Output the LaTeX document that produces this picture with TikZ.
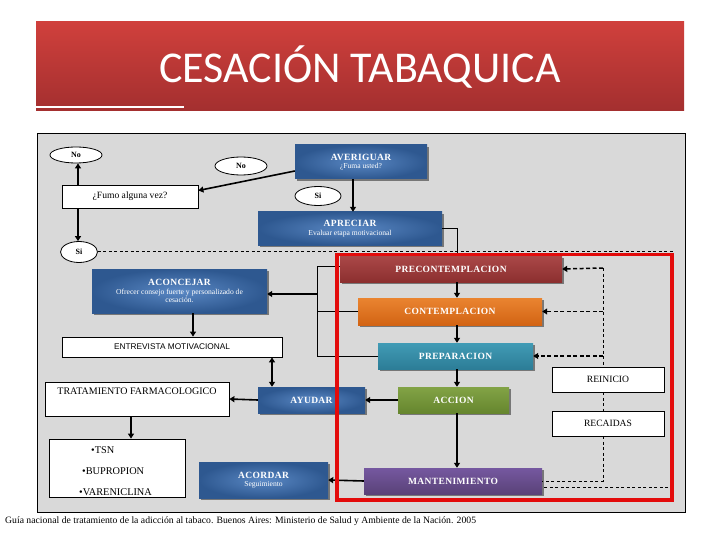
\documentclass[tikz,border=0pt]{standalone}
\usepackage{fontspec}
\setmainfont{Liberation Serif}
\newfontfamily\titlefont{Carlito}
\newfontfamily\sansf{Liberation Sans}
\newfontfamily\stagefont[LetterSpace=4]{Liberation Serif Bold}
\newcommand\subtxt{\normalfont\fontsize{7.6}{8.4}\selectfont}
\usetikzlibrary{shapes.geometric,arrows.meta,shadows}
\definecolor{bannertop}{HTML}{D0403C}
\definecolor{bannerbot}{HTML}{A32F2F}
\definecolor{panel}{HTML}{D9D9D9}
\definecolor{framered}{HTML}{E30B0B}
\definecolor{bluein}{HTML}{5A88C4}
\definecolor{blueout}{HTML}{2E5890}
\definecolor{pretop}{HTML}{AA4848}
\definecolor{prebot}{HTML}{8C2F2F}
\definecolor{conttop}{HTML}{EA8430}
\definecolor{contbot}{HTML}{D26414}
\definecolor{preptop}{HTML}{419BB5}
\definecolor{prepbot}{HTML}{2C7D97}
\definecolor{acctop}{HTML}{82A346}
\definecolor{accbot}{HTML}{66862E}
\definecolor{manttop}{HTML}{7558A0}
\definecolor{mantbot}{HTML}{5A4278}
\tikzset{
  stage/.style={rectangle, inner sep=1pt, align=center, text=white,
    drop shadow={shadow xshift=1.8pt, shadow yshift=-1.8pt, opacity=0.45, fill=black},
    font=\stagefont\fontsize{9.5}{10.5}\selectfont},
  bluebox/.style={stage, inner color=bluein, outer color=blueout},
  prebox/.style={stage, top color=pretop, bottom color=prebot},
  contbox/.style={stage, top color=conttop, bottom color=contbot},
  prepbox/.style={stage, top color=preptop, bottom color=prepbot},
  accbox/.style={stage, top color=acctop, bottom color=accbot},
  mantbox/.style={stage, top color=manttop, bottom color=mantbot},
  whitebox/.style={rectangle, draw=black, fill=white, line width=0.8pt, inner sep=1pt,
    font=\fontsize{9.6}{10.5}\selectfont},
  oval/.style={ellipse, draw=black, fill=white, line width=0.8pt, inner sep=0pt,
    font=\bfseries\fontsize{8}{9}\selectfont},
  arr/.style={line width=1.6pt, -{Triangle[length=5pt,width=6pt]}},
  darr/.style={line width=1.6pt, {Triangle[length=5pt,width=6pt]}-{Triangle[length=5pt,width=6pt]}},
  dasharr/.style={line width=1.5pt, dash pattern=on 4pt off 2.5pt, -{Triangle[length=5pt,width=6pt]}},
  thinline/.style={line width=0.8pt},
  thindash/.style={line width=0.8pt, dash pattern=on 3pt off 2.5pt},
}
\begin{document}
\begin{tikzpicture}[x=1pt,y=-1pt]
\useasboundingbox (0,0) rectangle (720,540);
\fill[white] (0,0) rectangle (720,540);
% title banner
\shade[top color=bannertop, bottom color=bannerbot] (36,22) rectangle (684,111);
\draw[white, line width=1.3pt] (36,107) -- (184,107);
\node[text=white, font=\titlefont\fontsize{44}{48}\selectfont] (title) at (360,67) {CESACIÓN TABAQUICA};
% panel
\draw[fill=panel, line width=0.8pt] (37,133) rectangle (685,512);
% helper coordinates
\coordinate (colx) at (457,0);
\coordinate (fx) at (78,0);
\coordinate (ex) at (272,0);
\coordinate (br) at (317,0);
\coordinate (fb) at (603,268);
\coordinate (loopTR) at (672,251);
\coordinate (loopBR) at (672,487);
% nodes
\node[oval, minimum width=52, minimum height=16] (noA) at (76,155) {No};
\node[oval, minimum width=52, minimum height=18] (noB) at (241,166) {No};
\node[bluebox, minimum width=132, minimum height=34] (averiguar) at (361,162)
  {AVERIGUAR\\[-2pt]{\subtxt ¿Fuma usted?}};
\node[whitebox, minimum width=136, minimum height=23] (fumo) at (130,196.5) {¿Fumo alguna vez?};
\node[oval, minimum width=46, minimum height=19] (siA) at (318,196) {Si};
\node[bluebox, minimum width=184, minimum height=33] (apreciar) at (350,228.5)
  {APRECIAR\\[-2pt]{\subtxt Evaluar etapa motivacional}};
\node[oval, minimum width=37, minimum height=21] (siB) at (79,252) {Si};
\node[bluebox, minimum width=175, minimum height=44] (aconcejar) at (179.5,291)
  {ACONCEJAR\\[-2pt]{\subtxt Ofrecer consejo fuerte y personalizado de}\\[-2pt]{\subtxt cesación.}};
\node[whitebox, minimum width=220, minimum height=20, font=\sansf\fontsize{8.3}{9}\selectfont] (entrevista) at (172,347) {ENTREVISTA MOTIVACIONAL};
\node[whitebox, minimum width=184, minimum height=34,
  label={[anchor=north, yshift=-3pt, font=\fontsize{10}{11}\selectfont]north:TRATAMIENTO FARMACOLOGICO}] (trat) at (137,399) {};
\node[whitebox, minimum width=136, minimum height=58] (bullets) at (117,468) {};
\node[anchor=west, font=\fontsize{10.3}{11}\selectfont, inner sep=0pt] (b1) at (91,450) {•TSN};
\node[anchor=west, font=\fontsize{10.3}{11}\selectfont, inner sep=0pt] (b2) at (82,471) {•BUPROPION};
\node[anchor=west, font=\fontsize{10.3}{11}\selectfont, inner sep=0pt] (b3) at (79,492) {•VARENICLINA};
\node[prebox, minimum width=222, minimum height=26] (precont) at (451,269) {PRECONTEMPLACION};
\node[contbox, minimum width=184, minimum height=27] (cont) at (450,311.5) {CONTEMPLACION};
\node[prepbox, minimum width=155, minimum height=26] (prep) at (455.5,356) {PREPARACION};
\node[accbox, minimum width=111, minimum height=26] (accion) at (453.5,400) {ACCION};
\node[mantbox, minimum width=178, minimum height=26] (mant) at (453,481) {MANTENIMIENTO};
\node[bluebox, minimum width=107, minimum height=26] (ayudar) at (311.5,400) {AYUDAR};
\node[bluebox, minimum width=129, minimum height=36] (acordar) at (263.5,480)
  {ACORDAR\\[-2pt]{\subtxt Seguimiento}};
\node[whitebox, minimum width=112, minimum height=25] (reinicio) at (608,379.5) {REINICIO};
\node[whitebox, minimum width=112, minimum height=25] (recaidas) at (608,423.5) {RECAIDAS};
% footer
\node[anchor=west, inner sep=0pt, font=\fontsize{9.7}{10}\selectfont] (foot) at (5,521)
  {Guía nacional de tratamiento de la adicción al tabaco. Buenos Aires: Ministerio de Salud y Ambiente de la Nación. 2005};
% connectors
\draw[arr] ([yshift=-9pt]averiguar.west) -- ([yshift=6pt]fumo.east);
\draw[arr] ([xshift=-8pt]averiguar.south) -- ([xshift=-8pt]averiguar.south |- apreciar.north);
\draw[arr] (fumo.north -| fx) -- (noA.south -| fx);
\draw[arr] (fumo.south -| fx) -- (siB.north -| fx);
\draw[thinline] (apreciar.east) -| (precont.north -| colx);
\draw[arr] (precont.south -| colx) -- (cont.north -| colx);
\draw[arr] (cont.south -| colx) -- (prep.north -| colx);
\draw[arr] (prep.south -| colx) -- (accion.north -| colx);
\draw[arr] (accion.south -| colx) -- (mant.north -| colx);
% bracket to ACONCEJAR
\draw[thinline] ([yshift=2.5pt]precont.west) -- ([yshift=2.5pt]precont.west -| br) -- (prep.west -| br) -- (prep.west);
\draw[thinline] (cont.west -| br) -- (cont.west);
\draw[arr] ([yshift=-3pt]aconcejar.east -| br) -- ([yshift=-3pt]aconcejar.east);
\draw[arr] ([xshift=13.5pt]aconcejar.south) -- ([xshift=13.5pt]aconcejar.south |- entrevista.north);
\draw[darr] (entrevista.south -| ex) -- (ayudar.north -| ex);
\draw[arr] (ayudar.west) -- (trat.east);
\draw[arr] (accion.west) -- (ayudar.east);
\draw[arr] ([xshift=-6pt]trat.south) -- ([xshift=-6pt]trat.south |- bullets.north);
\draw[arr] (mant.west) -- (acordar.east);
% feedback dashed
\draw[thindash] (fb) -- (fb |- reinicio.north);
\draw[thindash] (fb |- reinicio.south) -- (fb |- recaidas.north);
\draw[thindash] (fb |- recaidas.south) |- (mant.east);
\draw[dasharr] (fb) -- (precont.east);
\draw[dasharr] (fb |- cont.east) -- (cont.east);
\draw[dasharr] (fb |- prep.east) -- (prep.east);
% big dashed loop
\draw[thindash] (siB.east |- loopTR) -- (loopTR) -- (loopBR) -- ([yshift=-6pt]mant.east);
% red frame
\draw[framered, line width=3.2pt] (337,254.5) rectangle (672,500);
\end{tikzpicture}
\end{document}
